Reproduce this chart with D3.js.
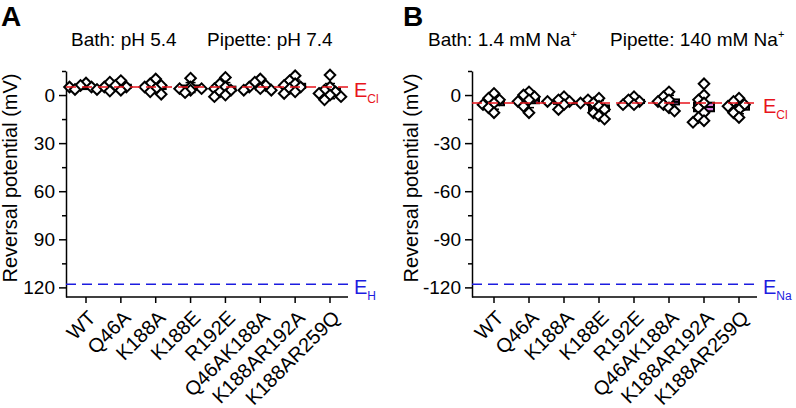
<!DOCTYPE html>
<html><head><meta charset="utf-8">
<script src="https://cdn.jsdelivr.net/npm/d3@7"></script>
<style>
body{margin:0;background:#fff}
svg{display:block}
text{font-family:"Liberation Sans",Arial,Helvetica,sans-serif}
</style></head>
<body><svg id="c" width="796" height="408"></svg>
<script>
// ---------- data ----------
const categories = ["WT","Q46A","K188A","K188E","R192E","Q46AK188A","K188AR192A","K188AR259Q"];

// Panel A: Bath pH 5.4 / Pipette pH 7.4 (reversal potentials, mV)
const valuesA = [
  [7.5, 6, 5, 5, 3.5, 3.5],
  [9, 8, 6, 5, 5, 3, 2.5],
  [10, 7, 6, 5, 4, 2, 0.5],
  [10.5, 5, 4, 4, 3, 1.5],
  [11, 7, 5, 4, 3, 2, 0, -1],
  [10, 8, 6, 5, 4, 3, 3],
  [12, 9, 7, 6, 5, 4, 2, 1],
  [12.5, 5, 3, 2, 1, 0, -1, -3]
];
// Panel B: Bath 1.4 mM Na+ / Pipette 140 mM Na+
const valuesB = [
  [1, -2, -3, -5, -6, -8, -11],
  [2, 0, -1, -3, -4, -7, -11],
  [-1, -3, -4, -4, -5, -6, -9],
  [-2, -3, -5, -7, -9, -11, -13, -15],
  [-1, -3, -4, -6, -6],
  [2, -1, -3, -4, -6, -8, -10],
  [7, 0, -3, -5, -8, -11, -14, -16, -17],
  [-2, -4, -6, -7, -9, -11, -14]
];

const eClA = 5, eHA = -118;
const eClB = -5, eNaB = -118;

const yTicks = [0, -30, -60, -90, -120];
const yMinorTicks = [15, -15, -45, -75, -105];
const yTickLabelsA = ["0", "30", "60", "90", "120"];
const yTickLabelsB = ["0", "-30", "-60", "-90", "-120"];
const yDomain = [-126, 15];

// ---------- drawing ----------
const svg = d3.select("#c");
const RED = "#e8141c", BLUE = "#1c1ce0";

function dodge(vals, y) {
  const order = vals.map((v, i) => i).sort((a, b) => vals[b] - vals[a]);
  const placed = [];
  const out = new Array(vals.length);
  const offs = [0, -1, 1, -2, 2, -3, 3];
  for (const i of order) {
    const yy = y(vals[i]);
    for (const k of offs) {
      const xx = k * 5.5;
      if (placed.every(p => Math.abs(p.x - xx) + Math.abs(p.y - yy) >= 7.5)) {
        placed.push({x: xx, y: yy}); out[i] = xx; break;
      }
    }
    if (out[i] === undefined) out[i] = 0;
  }
  return out;
}

function panel(cfg) {
  const g = svg.append("g");
  const y = d3.scaleLinear().domain(yDomain).range([297, 71]);
  const x = d3.scalePoint().domain(categories).range([cfg.c0, cfg.c1]);

  // y axis
  const ya = g.append("g").attr("transform", `translate(${cfg.x0},0)`)
    .call(d3.axisLeft(y).tickValues(yTicks).tickFormat((d, i) => cfg.tickLabels[i])
      .tickSize(7).tickSizeOuter(0).tickPadding(4));
  ya.selectAll("text").attr("font-size", 19).attr("font-family", "Liberation Sans, Arial").attr("fill", "#000");
  ya.selectAll("line,path").attr("stroke", "#000").attr("stroke-width", 1.5);
  const ym = g.append("g").attr("transform", `translate(${cfg.x0},0)`)
    .call(d3.axisLeft(y).tickValues(yMinorTicks).tickFormat("").tickSize(4).tickSizeOuter(0));
  ym.select("path").remove();
  ym.selectAll("line").attr("stroke", "#000").attr("stroke-width", 1.5);

  // x axis
  g.append("line").attr("x1", cfg.x0).attr("x2", cfg.x1).attr("y1", 297).attr("y2", 297)
    .attr("stroke", "#000").attr("stroke-width", 1.5);
  const xt = g.selectAll(".xt").data(categories).join("g").attr("transform", d => `translate(${x(d)},297)`);
  xt.append("line").attr("y1", 0).attr("y2", 6).attr("stroke", "#000").attr("stroke-width", 1.5);
  xt.append("text").attr("text-anchor", "end").attr("font-size", 20)
    .attr("transform", "translate(11,22) rotate(-45)").text(d => d);

  // axis title
  g.append("text").attr("transform", `translate(${cfg.titleX},178) rotate(-90)`)
    .attr("text-anchor", "middle").attr("font-size", 20).text("Reversal potential (mV)");

  // boxes
  const vals = cfg.values;
  vals.forEach((arr, i) => {
    const cx = x(categories[i]);
    const m = d3.mean(arr), sd = d3.deviation(arr), sem = sd / Math.sqrt(arr.length);
    const bg = g.append("g");
    bg.append("line").attr("x1", cx).attr("x2", cx).attr("y1", y(m + sd)).attr("y2", y(m - sd))
      .attr("stroke", "#000").attr("stroke-width", 1.5);
    [m + sd, m - sd].forEach(v => bg.append("line").attr("x1", cx - 5).attr("x2", cx + 5)
      .attr("y1", y(v)).attr("y2", y(v)).attr("stroke", "#000").attr("stroke-width", 1.5));
    bg.append("rect").attr("x", cx - 10).attr("width", 20)
      .attr("y", y(m + sem)).attr("height", Math.max(1, y(m - sem) - y(m + sem)))
      .attr("fill", cfg.boxFill).attr("stroke", "#000").attr("stroke-width", 2);
    bg.append("line").attr("x1", cx - 10).attr("x2", cx + 10).attr("y1", y(m)).attr("y2", y(m))
      .attr("stroke", "#000").attr("stroke-width", 2);
    // points
    const off = dodge(arr, y);
    bg.selectAll("path").data(arr).join("path")
      .attr("d", d3.symbol(d3.symbolSquare, 56)())
      .attr("transform", (d, j) => `translate(${cx + off[j]},${y(d)}) rotate(45)`)
      .attr("fill", "#fff").attr("stroke", "#000").attr("stroke-width", 2);
  });

  // reference lines
  [[cfg.eCl, RED, "Cl"], [cfg.eIon, BLUE, cfg.ionSub]].forEach(([v, col, sub]) => {
    g.append("line").attr("x1", cfg.x0).attr("x2", cfg.x1).attr("y1", y(v)).attr("y2", y(v))
      .attr("stroke", col).attr("stroke-width", 1.6).attr("stroke-dasharray", "10,6");
    const t = g.append("text").attr("x", cfg.x1 + 6).attr("y", y(v) + 10).attr("fill", col).attr("font-size", 20);
    t.append("tspan").text("E");
    t.append("tspan").attr("font-size", 12).attr("dy", 6).text(sub);
  });

  // header
  const h = g.append("text").attr("y", 46).attr("font-size", 19);
  cfg.header(h);

  // panel letter
  g.append("text").attr("x", cfg.letterX).attr("y", 26).attr("font-size", 28)
    .attr("font-weight", "bold").text(cfg.letter);
}

panel({
  x0: 66, x1: 348, c0: 86, c1: 330, titleX: 17, values: valuesA, boxFill: "#f2e23a",
  tickLabels: yTickLabelsA, eCl: eClA, eIon: eHA, ionSub: "H", letter: "A", letterX: 1,
  header: h => {
    h.append("tspan").attr("x", 71).text("Bath: pH 5.4");
    h.append("tspan").attr("x", 207).text("Pipette: pH 7.4");
  }
});
panel({
  x0: 472, x1: 757, c0: 494, c1: 739, titleX: 418, values: valuesB, boxFill: "#d77ad8",
  tickLabels: yTickLabelsB, eCl: eClB, eIon: eNaB, ionSub: "Na", letter: "B", letterX: 403,
  header: h => {
    h.append("tspan").attr("x", 428).text("Bath: 1.4 mM Na");
    h.append("tspan").attr("font-size", 11).attr("dy", -8).text("+");
    h.append("tspan").attr("x", 610).attr("dy", 8).text("Pipette: 140 mM Na");
    h.append("tspan").attr("font-size", 11).attr("dy", -8).text("+");
  }
});
</script></body></html>
